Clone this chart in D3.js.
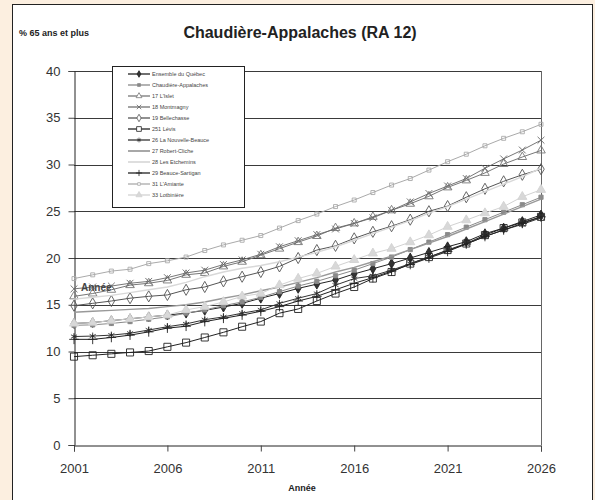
<!DOCTYPE html>
<html>
<head>
<meta charset="utf-8">
<script src="https://cdn.jsdelivr.net/npm/d3@7"></script>
<style>
  body { margin: 0; background: #fcefe0; }
  svg { display: block; font-family: "Liberation Sans", Arial, sans-serif; }
</style>
</head>
<body>
<div id="chart"></div>
<script>
// data
var years = d3.range(2001, 2027);
var quebec        = [13.0, 13.1, 13.3, 13.5, 13.7, 13.9, 14.1, 14.4, 14.75, 15.15, 15.7, 16.2, 16.75, 17.2, 17.65, 18.3, 18.85, 19.4, 20.0, 20.6, 21.2, 21.75, 22.6, 23.2, 23.9, 24.6];
var chaudiere     = [12.8, 12.85, 13.0, 13.2, 13.45, 13.7, 14.1, 14.45, 14.9, 15.3, 15.8, 16.4, 17.0, 17.5, 18.1, 18.7, 19.4, 20.1, 20.9, 21.7, 22.5, 23.3, 24.1, 24.9, 25.7, 26.5];
var islet         = [15.9, 16.2, 16.6, 17.1, 17.3, 17.6, 18.2, 18.4, 19.1, 19.6, 20.3, 21.0, 21.7, 22.35, 23.2, 23.7, 24.4, 25.1, 25.8, 26.6, 27.55, 28.3, 29.1, 30.05, 30.8, 31.5];
var montmagny     = [16.7, 16.9, 17.0, 17.3, 17.5, 17.9, 18.4, 18.7, 19.3, 19.8, 20.4, 21.2, 21.85, 22.5, 23.1, 23.7, 24.3, 25.1, 26.0, 26.9, 27.7, 28.5, 29.6, 30.6, 31.55, 32.6];
var bellechasse   = [14.9, 15.15, 15.4, 15.7, 15.9, 16.05, 16.6, 16.9, 17.5, 18.0, 18.5, 19.1, 20.0, 20.85, 21.3, 22.1, 22.8, 23.4, 24.1, 25.0, 25.55, 26.5, 27.4, 28.2, 28.9, 29.5];
var levis         = [9.45, 9.6, 9.75, 9.9, 10.05, 10.5, 10.95, 11.5, 12.05, 12.65, 13.2, 14.1, 14.55, 15.4, 16.2, 16.9, 17.8, 18.5, 19.4, 20.1, 20.85, 21.55, 22.45, 23.2, 23.8, 24.4];
var nouvelleBeauce = [11.6, 11.65, 11.75, 11.95, 12.3, 12.65, 12.95, 13.4, 13.7, 14.1, 14.45, 15.15, 15.7, 16.2, 17.1, 17.8, 18.1, 18.7, 19.4, 20.1, 20.8, 21.5, 22.3, 23.0, 23.6, 24.3];
var robertCliche  = [14.2, 14.3, 14.4, 14.5, 14.6, 14.8, 15.0, 15.3, 15.7, 16.05, 16.5, 16.9, 17.4, 17.9, 18.5, 19.0, 19.6, 20.2, 20.9, 21.6, 22.3, 23.1, 23.9, 24.7, 25.5, 26.3];
var etchemins     = [15.6, 15.8, 16.0, 16.3, 16.6, 16.9, 17.4, 18.0, 18.5, 18.9, 19.2, 19.6, 20.1, 20.6, 21.2, 21.9, 22.6, 23.3, 24.0, 24.8, 25.5, 26.3, 27.1, 27.9, 28.7, 29.6];
var beauceSartigan = [11.3, 11.3, 11.5, 11.75, 12.1, 12.5, 12.7, 13.2, 13.55, 13.9, 14.3, 14.8, 15.4, 15.9, 16.6, 17.3, 17.9, 18.6, 19.3, 20.0, 20.7, 21.5, 22.3, 23.0, 23.7, 24.4];
var amiante       = [17.8, 18.2, 18.6, 18.8, 19.4, 19.7, 20.1, 20.8, 21.4, 21.9, 22.4, 23.2, 24.0, 24.7, 25.5, 26.2, 27.0, 27.8, 28.5, 29.4, 30.3, 31.1, 32.0, 32.8, 33.5, 34.3];
var lotbiniere    = [13.0, 13.1, 13.3, 13.5, 13.7, 13.9, 14.45, 14.8, 15.3, 15.9, 16.2, 17.1, 17.8, 18.35, 19.1, 19.8, 20.5, 21.0, 21.7, 22.45, 23.35, 24.05, 24.8, 25.5, 26.55, 27.3];

var yTicks = [0, 5, 10, 15, 20, 25, 30, 35, 40];
var xTicks = [2001, 2006, 2011, 2016, 2021, 2026];

// series table (names + look)
var series = [
  {name: "Ensemble du Québec",   values: quebec,         color: "#222",    width: 1,   sym: d3.symbolDiamond,  size: 28, fill: "#333"},
  {name: "Chaudière-Appalaches", values: chaudiere,      color: "#8a8a8a", width: 1,   sym: d3.symbolSquare,   size: 18, fill: "#8a8a8a"},
  {name: "17 L'Islet",           values: islet,          color: "#777",    width: 1,   sym: d3.symbolTriangle, size: 32, fill: "none"},
  {name: "18 Montmagny",         values: montmagny,      color: "#666",    width: 0.9, sym: d3.symbolTimes,    size: 32, fill: "none"},
  {name: "19 Bellechasse",       values: bellechasse,    color: "#555",    width: 1,   sym: d3.symbolDiamond,  size: 36, fill: "none"},
  {name: "251 Lévis",            values: levis,          color: "#222",    width: 1,   sym: d3.symbolSquare,   size: 50, fill: "none"},
  {name: "26 La Nouvelle-Beauce", values: nouvelleBeauce, color: "#333",   width: 1,   sym: d3.symbolAsterisk, size: 34, fill: "none"},
  {name: "27 Robert-Cliche",     values: robertCliche,   color: "#999",    width: 1.4, sym: null},
  {name: "28 Les Etchemins",     values: etchemins,      color: "#d8d8d8", width: 1.4, sym: null},
  {name: "29 Beauce-Sartigan",   values: beauceSartigan, color: "#222",    width: 1,   sym: d3.symbolPlus,     size: 32, fill: "none"},
  {name: "31 L'Amiante",         values: amiante,        color: "#aaa",    width: 1,   sym: d3.symbolSquare,   size: 16, fill: "none"},
  {name: "33 Lotbinière",        values: lotbiniere,     color: "#d2d2d2", width: 1,   sym: d3.symbolTriangle, size: 36, fill: "#d8d8d8"}
];

var svgWidth = 595, svgHeight = 500;
var plot = {left: 74, right: 541, top: 71, bottom: 445};

var svg = d3.select("#chart").append("svg")
  .attr("width", svgWidth)
  .attr("height", svgHeight);

// white panel
svg.append("rect")
  .attr("x", 12.5).attr("y", 4.5)
  .attr("width", 580).attr("height", 500)
  .attr("fill", "#fff").attr("stroke", "#222").attr("stroke-width", 1);

var x = d3.scaleLinear().domain([2001, 2026]).range([plot.left, plot.right]);
var y = d3.scaleLinear().domain([0, 40]).range([plot.bottom, plot.top]);

// gridlines
svg.append("g").selectAll("line")
  .data(yTicks.slice(1))
  .enter().append("line")
  .attr("x1", plot.left).attr("x2", plot.right)
  .attr("y1", d => Math.round(y(d)) + 0.5).attr("y2", d => Math.round(y(d)) + 0.5)
  .attr("stroke", "#3a3a3a").attr("stroke-width", 1);

// right border
svg.append("line")
  .attr("x1", plot.right + 0.5).attr("x2", plot.right + 0.5)
  .attr("y1", plot.top).attr("y2", plot.bottom)
  .attr("stroke", "#666");

// axes
var leftAxis = d3.axisLeft(y).tickValues(yTicks).tickSize(6).tickPadding(8);
var bottomAxis = d3.axisBottom(x).tickValues(xTicks).tickFormat(d3.format("d")).tickSize(6).tickPadding(12);

var gy = svg.append("g").attr("transform", "translate(" + (plot.left + 0.5) + ",0)").call(leftAxis);
var gx = svg.append("g").attr("transform", "translate(0," + (plot.bottom + 0.5) + ")").call(bottomAxis);
[gy, gx].forEach(function(g) {
  g.select(".domain").attr("stroke", "#222");
  g.selectAll(".tick line").attr("stroke", "#444");
  g.selectAll(".tick text").attr("fill", "#333").style("font-size", "13px")
    .style("font-weight", "normal")
    .style("font-family", "'Liberation Sans', Arial, sans-serif");
});

// lines + markers
var line = d3.line()
  .x((d, i) => x(years[i]))
  .y(d => y(d));

series.forEach(function(s) {
  svg.append("path")
    .datum(s.values)
    .attr("d", line)
    .attr("fill", "none")
    .attr("stroke", s.color)
    .attr("stroke-width", s.width);

  if (s.sym) {
    svg.append("g").selectAll("path")
      .data(s.values)
      .enter().append("path")
      .attr("d", d3.symbol().type(s.sym).size(s.size))
      .attr("transform", (d, i) => "translate(" + x(years[i]) + "," + y(d) + ")")
      .attr("fill", s.fill === "none" ? "#fff" : s.fill)
      .attr("fill-opacity", s.fill === "none" ? 0 : 1)
      .attr("stroke", s.color)
      .attr("stroke-width", 0.9);
  }
});

// legend
var legend = svg.append("g");
legend.append("rect")
  .attr("x", 112.5).attr("y", 66.5)
  .attr("width", 132).attr("height", 141)
  .attr("fill", "#fff").attr("stroke", "#222");

var item = legend.selectAll("g.item")
  .data(series)
  .enter().append("g")
  .attr("class", "item")
  .attr("transform", (d, i) => "translate(0," + (74 + i * 11) + ")");

item.append("line")
  .attr("x1", 128).attr("x2", 150)
  .attr("stroke", d => d.color)
  .attr("stroke-width", d => d.width + 0.3);

item.filter(d => d.sym).append("path")
  .attr("d", d => d3.symbol().type(d.sym).size(d.size * 0.45)())
  .attr("transform", "translate(139,0)")
  .attr("fill", d => d.fill === "none" ? "#fff" : d.fill)
  .attr("stroke", d => d.color)
  .attr("stroke-width", 0.8);

item.append("text")
  .attr("x", 152).attr("dy", "0.35em")
  .style("font-size", "5.5px")
  .attr("fill", "#444")
  .text(d => d.name);

// texts
svg.append("text")
  .attr("x", 300).attr("y", 38)
  .attr("text-anchor", "middle")
  .style("font-size", "16px").style("font-weight", "bold")
  .attr("fill", "#222")
  .text("Chaudière-Appalaches (RA 12)");

svg.append("text")
  .attr("x", 19).attr("y", 36)
  .style("font-size", "9px").style("font-weight", "bold")
  .attr("fill", "#222")
  .text("% 65 ans et plus");

svg.append("text")
  .attr("x", 81).attr("y", 291)
  .style("font-size", "10px").style("font-weight", "bold")
  .attr("fill", "#444")
  .text("Année");

svg.append("text")
  .attr("x", 302).attr("y", 491)
  .attr("text-anchor", "middle")
  .style("font-size", "9px").style("font-weight", "bold")
  .attr("fill", "#222")
  .text("Année");
</script>
</body>
</html>
